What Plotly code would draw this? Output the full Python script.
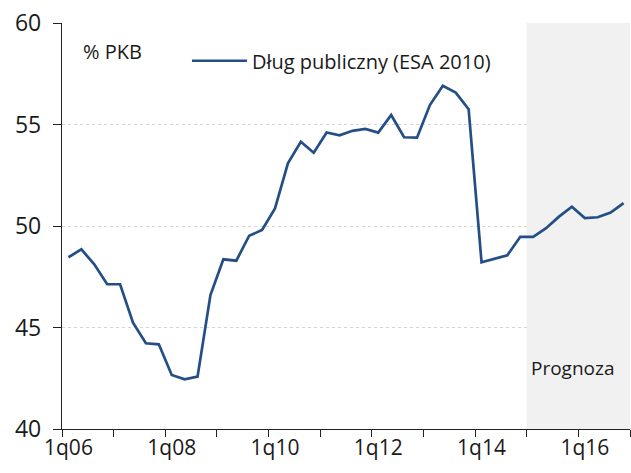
import plotly.graph_objects as go

years = list(range(2006, 2017))
quarters = [f"{q}q{y % 100:02d}" for y in years for q in range(1, 5)]

debt = [48.46, 48.85, 48.11, 47.13, 47.13, 45.24, 44.22, 44.17,
        42.66, 42.45, 42.58, 46.60, 48.36, 48.29, 49.52, 49.80,
        50.87, 53.09, 54.15, 53.61, 54.61, 54.47, 54.69, 54.78,
        54.60, 55.47, 54.37, 54.35, 55.96, 56.91, 56.57, 55.75,
        48.21, 48.39, 48.56, 49.47, 49.46, 49.89, 50.46, 50.95,
        50.39, 50.43, 50.66, 51.13]

forecast_start = "1q15"
series_name = "Dług publiczny (ESA 2010)"
unit_label = "% PKB"
forecast_label = "Prognoza"
y_ticks = [40, 45, 50, 55, 60]

n = len(quarters)
xi = list(range(n))
label_idx = [i for i, q in enumerate(quarters) if q.startswith("1q") and int(q[2:]) % 2 == 0]
label_txt = [quarters[i] for i in label_idx]
minor_vals = [i - 0.5 for i in range(0, n + 1, 4)]
fs = quarters.index(forecast_start)

FONT = "Open Sans"
fig = go.Figure()
fig.add_trace(go.Scatter(x=xi, y=debt, mode="lines", name=series_name,
                         line=dict(color="#234f86", width=2.7)))

fig.add_shape(type="rect", xref="x", yref="y", x0=fs - 0.5, x1=n - 0.5, y0=40, y1=60,
              fillcolor="#f1f1f1", line=dict(width=0), layer="between")

fig.add_annotation(x=0.034, y=0.93, xref="paper", yref="paper", text=unit_label,
                   showarrow=False, xanchor="left", yanchor="middle",
                   font=dict(family=FONT, size=20, color="#1a1a1a"))
fig.add_annotation(x=fs - 0.5, y=43.0, xref="x", yref="y", text=forecast_label,
                   showarrow=False, xanchor="left", yanchor="middle", xshift=2,
                   font=dict(family=FONT, size=19, color="#1a1a1a"))

fig.update_layout(
    width=631, height=473,
    margin=dict(l=62, r=1, t=23, b=44),
    plot_bgcolor="white", paper_bgcolor="white",
    font=dict(family=FONT, color="#1a1a1a"),
    showlegend=True,
    legend=dict(x=0.22, y=0.907, xanchor="left", yanchor="middle",
                bgcolor="rgba(0,0,0,0)", font=dict(family=FONT, size=20, color="#1a1a1a"),
                itemwidth=55),
)
fig.update_xaxes(range=[-0.5, n - 0.5], tickmode="array", tickvals=label_idx, ticktext=label_txt,
                 ticks="", showgrid=False, showline=True, linecolor="#222", linewidth=1.3,
                 tickfont=dict(family=FONT, size=21, color="#1a1a1a"), automargin=False,
                 minor=dict(ticks="outside", tickmode="array", tickvals=minor_vals,
                            ticklen=7, tickcolor="#222", tickwidth=1.3, showgrid=False),
                 zeroline=False)
fig.update_yaxes(range=[40, 60], tickmode="array", tickvals=y_ticks,
                 ticks="outside", ticklen=8, tickcolor="#222", tickwidth=1.3,
                 showline=True, linecolor="#222", linewidth=1.3,
                 showgrid=True, gridcolor="#d6d6d6", griddash="dot", gridwidth=1,
                 tickfont=dict(family=FONT, size=23, color="#1a1a1a"), automargin=False,
                 ticklabelstandoff=7, zeroline=False)

fig.write_html("out.html", config={"displayModeBar": False},
               post_script="document.body.style.margin='0';document.body.style.overflow='hidden';")
